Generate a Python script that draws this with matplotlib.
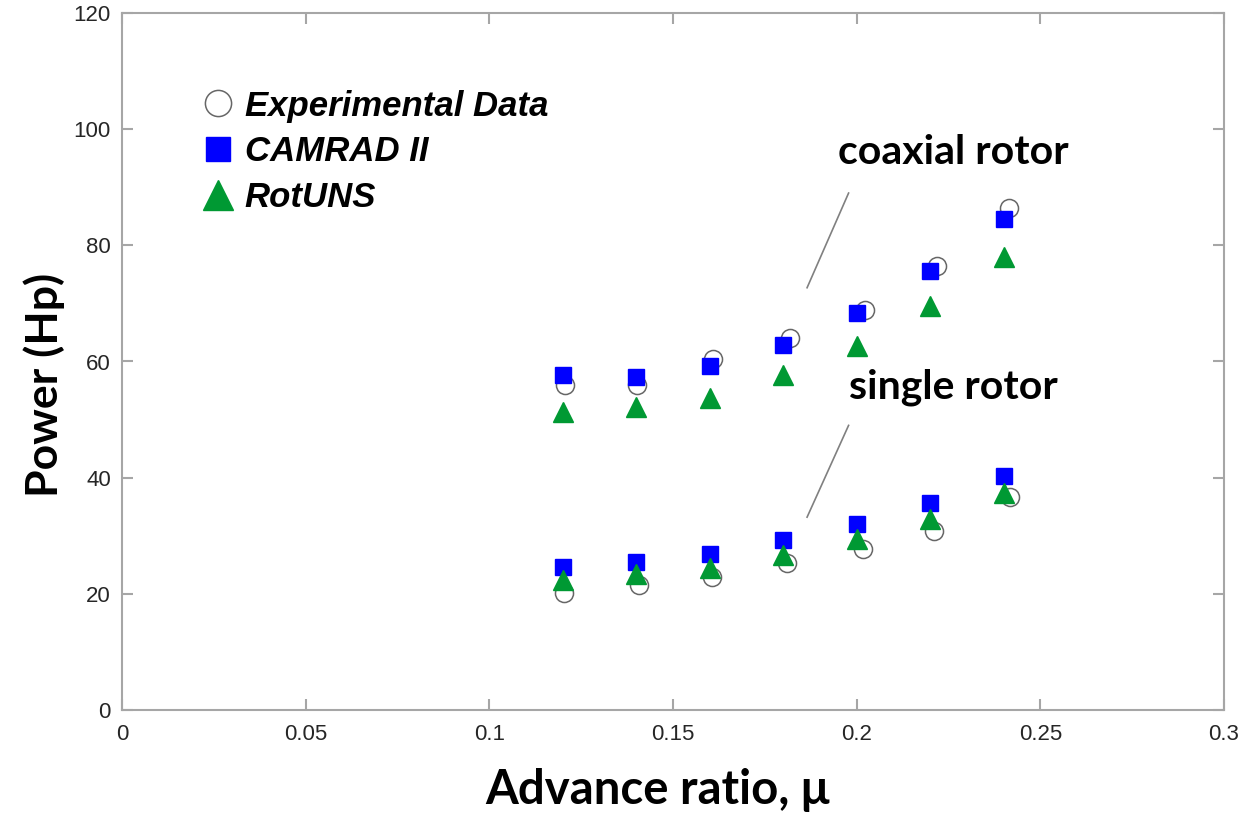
import matplotlib
matplotlib.use("Agg")
import matplotlib.pyplot as plt

# ---- data ----
mu = [0.12, 0.14, 0.16, 0.18, 0.20, 0.22, 0.24]

# experimental data (slightly offset advance ratios as plotted)
exp_coax_mu = [0.1205, 0.1403, 0.1610, 0.1818, 0.2022, 0.2220, 0.2415]
exp_coax = [55.9, 55.9, 60.5, 64.0, 68.8, 76.5, 86.5]
exp_single_mu = [0.1204, 0.1408, 0.1607, 0.1811, 0.2018, 0.2211, 0.2418]
exp_single = [20.1, 21.6, 22.9, 25.3, 27.8, 30.9, 36.6]

camrad_coax = [57.6, 57.3, 59.2, 62.9, 68.3, 75.5, 84.5]
camrad_single = [24.6, 25.4, 26.8, 29.2, 32.1, 35.7, 40.3]

rotuns_coax = [51.3, 52.1, 53.8, 57.6, 62.6, 69.5, 78.0]
rotuns_single = [22.3, 23.5, 24.5, 26.6, 29.4, 32.9, 37.4]

xticks = [0, 0.05, 0.1, 0.15, 0.2, 0.25, 0.3]
xticklabels = ["0", "0.05", "0.1", "0.15", "0.2", "0.25", "0.3"]
yticks = [0, 20, 40, 60, 80, 100, 120]

legend_labels = ["Experimental Data", "CAMRAD II", "RotUNS"]
annot_texts = ["coaxial rotor", "single rotor"]

# ---- figure ----
fig = plt.figure(figsize=(12.5, 8.13), dpi=100)
ax = fig.add_axes([122/1250, 1 - 710/813, (1224-122)/1250, (710-13)/813])

blue = "#0000FF"
green = "#009933"
gray_edge = "#666666"

# markers
h_exp, = ax.plot(exp_coax_mu, exp_coax, "o", ms=13, mfc="white", mec=gray_edge, mew=1.1, ls="none", zorder=2)
ax.plot(exp_single_mu, exp_single, "o", ms=13, mfc="white", mec=gray_edge, mew=1.1, ls="none", zorder=2)
h_cam, = ax.plot(mu, camrad_coax, "s", ms=11.5, color=blue, ls="none", zorder=3)
ax.plot(mu, camrad_single, "s", ms=11.5, color=blue, ls="none", zorder=3)
h_rot, = ax.plot(mu, rotuns_coax, "^", ms=15, color=green, ls="none", zorder=4)
ax.plot(mu, rotuns_single, "^", ms=15, color=green, ls="none", zorder=4)

ax.set_xlim(0, 0.3)
ax.set_ylim(0, 120)
ax.set_xticks(xticks)
ax.set_xticklabels(xticklabels)
ax.set_yticks(yticks)

spine_col = "#a6a6a6"
for s in ax.spines.values():
    s.set_color(spine_col)
    s.set_linewidth(1.5)
ax.tick_params(direction="in", length=8, width=1.5, color=spine_col,
               top=True, right=True, labelsize=16, labelcolor="#262626")
ax.tick_params(axis="x", pad=10)
ax.tick_params(axis="y", pad=8)
for lab in ax.get_xticklabels() + ax.get_yticklabels():
    lab.set_family("Liberation Sans")

ax.set_xlabel("Advance ratio, μ", fontsize=34, fontweight="bold", family="Lato")
ax.set_ylabel("Power (Hp)", fontsize=32, fontweight="bold", family="Lato")
ax.xaxis.set_label_coords(0.4855, -0.083)
ax.yaxis.set_label_coords(-0.052, 0.466)

# annotation lines and texts
ax.plot([0.1978, 0.1865], [89.0, 72.7], color="#808080", lw=1.2)
ax.plot([0.1978, 0.1865], [49.0, 33.2], color="#808080", lw=1.2)
ax.text(0.195, 95.9, annot_texts[0], fontsize=29.5, fontweight="bold", family="Lato", va="center", ha="left")
ax.text(0.198, 55.6, annot_texts[1], fontsize=29.5, fontweight="bold", family="Lato", va="center", ha="left")

leg = ax.legend([h_exp, h_cam, h_rot], legend_labels, loc="upper left",
                bbox_to_anchor=(0.0427, 0.935), frameon=False, handlelength=1.0,
                handletextpad=0.28, labelspacing=0.37, markerscale=1.45,
                prop={"family": "Liberation Sans", "weight": "bold", "style": "italic", "size": 25})

fig.savefig("out.png", dpi=100)
